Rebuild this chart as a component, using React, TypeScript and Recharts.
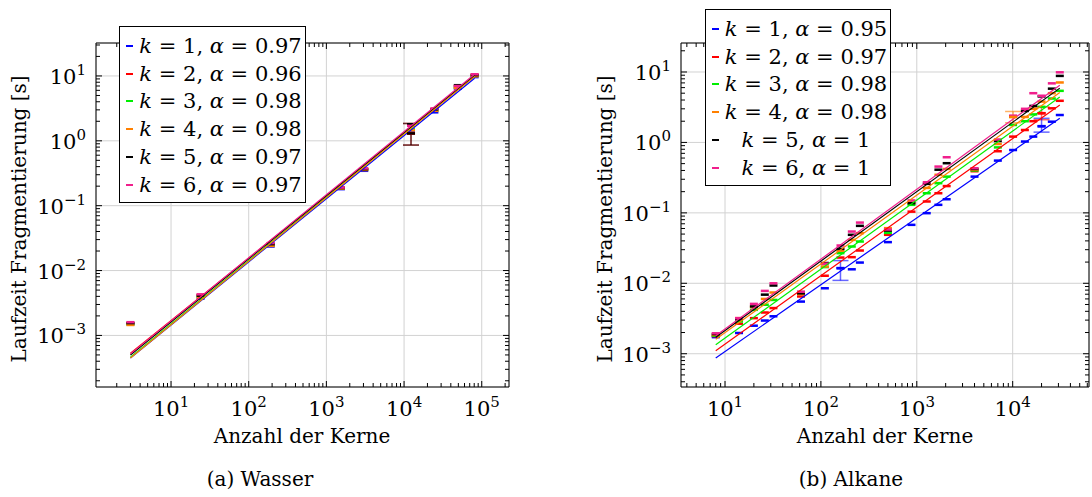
import { CartesianGrid, ErrorBar, Legend, Scatter, ScatterChart, XAxis, YAxis } from "recharts";

const FONT = "'DejaVu Serif', serif";
const COLORS = ["#0000ff", "#ff0000", "#00ee00", "#ff8000", "#000000", "#f01f8c"];

// Wasser
const WASSER_N = [3, 24, 192, 1536, 3072, 12288, 24576, 49152, 81000];
const WASSER_K1 = [1.5e-3, 3.7e-3, 0.0235, 0.18, 0.345, 1.35, 2.75, 6.4, 9.6];
const WASSER_K2 = [1.55e-3, 4.2e-3, 0.026, 0.19, 0.37, 1.3, 3.1, 6.9, 10.4];
const WASSER_K3 = [1.48e-3, 3.9e-3, 0.0245, 0.185, 0.36, 1.5, 2.95, 6.6, 10.0];
const WASSER_K4 = [1.45e-3, 3.85e-3, 0.024, 0.183, 0.355, 1.45, 2.9, 6.5, 9.9];
const WASSER_K5 = [1.55e-3, 4.1e-3, 0.0255, 0.187, 0.365, 1.8, 3.05, 7.2, 10.3];
const WASSER_K6 = [1.6e-3, 4.3e-3, 0.0265, 0.19, 0.375, 1.7, 3.15, 7.0, 10.6];
const WASSER_FIT_N = [3, 81000];
const WASSER_FIT_K1 = [4.5e-4, 9.2];
const WASSER_FIT_K2 = [5.3e-4, 9.9];
const WASSER_FIT_K3 = [4.6e-4, 10.0];
const WASSER_FIT_K4 = [4.5e-4, 9.9];
const WASSER_FIT_K5 = [5.0e-4, 10.3];
const WASSER_FIT_K6 = [5.2e-4, 10.6];
const WASSER_ALPHA = ["0.97", "0.96", "0.98", "0.98", "0.97", "0.97"];
const WASSER_ERRORS = [
  { k: 2, n: 12288, t: 1.3, lo: 0.44, hi: 0.55 },
  { k: 5, n: 12288, t: 1.3, lo: 0.44, hi: 0.55 },
];

// Alkane
const ALKANE_N = [8, 14, 20, 26, 32, 62, 110, 160, 210, 255, 500, 880, 1270, 1680, 2050, 4000, 7000, 10100, 13400, 16400, 20000, 25600, 31000];
const ALKANE_K1 = [1.72e-3, 1.97e-3, 2.5e-3, 2.96e-3, 3.4e-3, 5.5e-3, 8.5e-3, 0.0164, 0.0158, 0.0197, 0.0384, 0.0676, 0.099, 0.13, 0.156, 0.327, 0.552, 0.78, 1.03, 1.21, 1.7, 1.97, 2.45];
const ALKANE_K2 = [1.78e-3, 2.67e-3, 3.2e-3, 3.85e-3, 4.45e-3, 6.5e-3, 0.0128, 0.0232, 0.0235, 0.0292, 0.0488, 0.104, 0.145, 0.19, 0.24, 0.39, 0.75, 1.21, 1.5, 2.0, 2.6, 3.05, 3.9];
const ALKANE_K3 = [1.8e-3, 2.88e-3, 4.2e-3, 4.96e-3, 5.8e-3, 7.5e-3, 0.017, 0.0268, 0.0333, 0.0392, 0.052, 0.13, 0.19, 0.264, 0.327, 0.4, 0.85, 1.77, 2.0, 2.5, 3.2, 4.2, 5.4];
const ALKANE_K4 = [1.85e-3, 3.2e-3, 4.6e-3, 6.0e-3, 7.4e-3, 7.0e-3, 0.0173, 0.029, 0.0414, 0.0515, 0.0607, 0.14, 0.226, 0.347, 0.42, 0.41, 0.95, 2.3, 2.3, 3.0, 3.8, 5.0, 7.1];
const ALKANE_K5 = [1.9e-3, 3.1e-3, 4.7e-3, 6.9e-3, 9.3e-3, 7.2e-3, 0.0194, 0.0308, 0.0488, 0.0654, 0.056, 0.137, 0.258, 0.41, 0.507, 0.42, 1.05, 2.35, 2.8, 3.3, 4.5, 5.8, 8.8];
const ALKANE_K6 = [1.95e-3, 3.2e-3, 5.1e-3, 7.8e-3, 0.01, 7.6e-3, 0.019, 0.0344, 0.0543, 0.0728, 0.058, 0.15, 0.272, 0.454, 0.616, 0.43, 1.1, 2.4, 3.0, 5.0, 4.6, 6.9, 9.9];
const ALKANE_FIT_N = [8, 31000];
const ALKANE_FIT_K1 = [8.7e-4, 2.2];
const ALKANE_FIT_K2 = [1.1e-3, 3.4];
const ALKANE_FIT_K3 = [1.34e-3, 4.4];
const ALKANE_FIT_K4 = [1.6e-3, 5.1];
const ALKANE_FIT_K5 = [1.72e-3, 5.9];
const ALKANE_FIT_K6 = [1.8e-3, 6.5];
const ALKANE_ALPHA = ["0.95", "0.97", "0.98", "0.98", "1", "1"];
const ALKANE_ERRORS = [
  { k: 1, n: 160, t: 0.0164, lo: 0.0054, hi: 0.0046 },
  { k: 4, n: 10100, t: 2.3, lo: 0.4, hi: 0.45 },
  { k: 2, n: 20000, t: 2.6, lo: 0.5, hi: 0.6 },
  { k: 1, n: 20000, t: 1.7, lo: 0.3, hi: 0.5 },
];

const WASSER_X_TICKS = [10, 100, 1000, 10000, 100000];
const ALKANE_X_TICKS = [10, 100, 1000, 10000];
const Y_TICKS = [0.001, 0.01, 0.1, 1, 10];
const MINOR_STEPS = [2, 3, 4, 5, 6, 7, 8, 9];

const minorTicks = (dom: number[]) => {
  const out: number[] = [];
  for (let d = Math.floor(Math.log10(dom[0])); d <= Math.ceil(Math.log10(dom[1])); d++) {
    MINOR_STEPS.forEach((m) => {
      const v = m * Math.pow(10, d);
      if (v >= dom[0] && v <= dom[1]) out.push(v);
    });
  }
  return out;
};

const expLabel = (v: number) => {
  const e = Math.round(Math.log10(v));
  return e < 0 ? `\u2212${-e}` : `${e}`;
};

const isMajor = (v: number) => Math.abs(Math.log10(v) - Math.round(Math.log10(v))) < 1e-9;

const BottomTick = ({ x, y, payload }: any) => (
  <g>
    <line x1={x} x2={x} y1={y} y2={y - 6} stroke="#000" />
    <text x={x} y={y + 29} textAnchor="middle" fontFamily={FONT} fontSize={21} fill="#000">
      10<tspan dy={-9} fontSize={15}>{expLabel(payload.value)}</tspan>
    </text>
  </g>
);
const BottomMinor = ({ x, y }: any) => <line x1={x} x2={x} y1={y - 1} y2={y - 5} stroke="#000" />;
const TopTick = ({ x, y, payload }: any) => (
  <line x1={x} x2={x} y1={y} y2={y + (isMajor(payload.value) ? 6 : 4)} stroke="#000" />
);
const LeftTick = ({ x, y, payload }: any) => (
  <g>
    <line x1={x} x2={x + 6} y1={y} y2={y} stroke="#000" />
    <text x={x - 10} y={y + 8} textAnchor="end" fontFamily={FONT} fontSize={21} fill="#000">
      10<tspan dy={-9} fontSize={15}>{expLabel(payload.value)}</tspan>
    </text>
  </g>
);
const LeftMinor = ({ x, y }: any) => <line x1={x + 1} x2={x + 5} y1={y} y2={y} stroke="#000" />;
const RightTick = ({ x, y, payload }: any) => (
  <line x1={x} x2={x - (isMajor(payload.value) ? 6 : 4)} y1={y} y2={y} stroke="#000" />
);

const dash = (color: string) => (p: any) => (
  <rect x={p.cx - 4} y={p.cy - 1.25} width={8} height={2.5} fill={color} />
);

const LegendBox = ({ alphas, width }: { alphas: string[]; width: number }) => (
  <div
    style={{
      width,
      height: 177,
      boxSizing: "border-box",
      border: "1px solid #000",
      background: "#fff",
      paddingTop: 5,
      fontFamily: FONT,
      fontSize: 21,
      color: "#000",
    }}
  >
    {alphas.map((a, i) => (
      <div key={i} style={{ height: 27.8, display: "flex", alignItems: "center" }}>
        <span style={{ width: 7, height: 2, background: COLORS[i], marginLeft: 6, marginRight: 3, flex: "none" }} />
        <span style={{ flex: 1, textAlign: "center", whiteSpace: "pre" }}>
          <i>k</i> = {i + 1}, <i>α</i> = {a}
        </span>
      </div>
    ))}
  </div>
);

type PanelProps = {
  margin: { top: number; left: number; right: number; bottom: number };
  xDomain: number[];
  yDomain: number[];
  xTicks: number[];
  n: number[];
  series: number[][];
  fitN: number[];
  fits: number[][];
  errors: { k: number; n: number; t: number; lo: number; hi: number }[];
  alphas: string[];
  legendPos: { left: number; top: number; width: number };
};

const Panel = ({ margin, xDomain, yDomain, xTicks, n, series, fitN, fits, errors, alphas, legendPos }: PanelProps) => {
  const xMinor = minorTicks(xDomain);
  const yMinor = minorTicks(yDomain);
  const common = { type: "number" as const, scale: "log" as const, allowDataOverflow: true, interval: 0 as const, tickSize: 0, tickMargin: 0, tickLine: false };
  return (
    <ScatterChart width={546} height={497} margin={margin}>
      <CartesianGrid stroke="#d2d2d2" strokeWidth={1} />
      <XAxis {...common} dataKey="x" domain={xDomain} ticks={xTicks} height={1} axisLine={{ stroke: "#000" }} tick={(p: any) => <BottomTick {...p} />} />
      <XAxis {...common} xAxisId="bm" dataKey="x" domain={xDomain} ticks={xMinor} height={1} axisLine={false} tick={(p: any) => <BottomMinor {...p} />} />
      <XAxis {...common} xAxisId="top" orientation="top" dataKey="x" domain={xDomain} ticks={[...xTicks, ...xMinor]} height={1} axisLine={{ stroke: "#000" }} tick={(p: any) => <TopTick {...p} />} />
      <YAxis {...common} dataKey="y" domain={yDomain} ticks={Y_TICKS} width={1} axisLine={{ stroke: "#000" }} tick={(p: any) => <LeftTick {...p} />} />
      <YAxis {...common} yAxisId="lm" dataKey="y" domain={yDomain} ticks={yMinor} width={1} axisLine={false} tick={(p: any) => <LeftMinor {...p} />} />
      <YAxis {...common} yAxisId="right" orientation="right" dataKey="y" domain={yDomain} ticks={[...Y_TICKS, ...yMinor]} width={1} axisLine={{ stroke: "#000" }} tick={(p: any) => <RightTick {...p} />} />
      {series.map((vals, i) => (
        <Scatter
          key={`pts-${i}`}
          data={n.map((x, j) => ({ x, y: vals[j] }))}
          shape={dash(COLORS[i])}
          isAnimationActive={false}
        />
      ))}
      {fits.map((f, i) => (
        <Scatter
          key={`fit-${i}`}
          data={fitN.map((x, j) => ({ x, y: f[j] }))}
          line={{ stroke: COLORS[i], strokeWidth: 1.2 }}
          shape={() => <g />}
          isAnimationActive={false}
        />
      ))}
      {errors.map((e, i) => (
        <Scatter
          key={`err-${i}`}
          data={[{ x: e.n, y: e.t, err: [e.lo, e.hi] }]}
          shape={dash(COLORS[e.k - 1])}
          isAnimationActive={false}
        >
          <ErrorBar dataKey="err" direction="y" width={8} stroke={COLORS[e.k - 1]} strokeWidth={1.5} strokeOpacity={0.6} />
        </Scatter>
      ))}
      <Legend
        layout="vertical"
        align="center"
        verticalAlign="middle"
        wrapperStyle={{ position: "absolute", left: legendPos.left, top: legendPos.top, width: legendPos.width, height: 177 }}
        content={() => <LegendBox alphas={alphas} width={legendPos.width} />}
      />
    </ScatterChart>
  );
};

const textStyle = { position: "absolute" as const, fontFamily: FONT, color: "#000", whiteSpace: "nowrap" as const, lineHeight: 1, fontSize: 20 };

export default function App() {
  return (
    <div style={{ position: "absolute", left: 0, top: 0, width: 1092, height: 497, background: "#fff" }}>
      <div style={{ position: "absolute", left: 0, top: 0 }}>
        <Panel
          margin={{ top: 42, left: 94, right: 36, bottom: 108 }}
          xDomain={[1.081, 224400]}
          yDomain={[1.603e-4, 32.2]}
          xTicks={WASSER_X_TICKS}
          n={WASSER_N}
          series={[WASSER_K1, WASSER_K2, WASSER_K3, WASSER_K4, WASSER_K5, WASSER_K6]}
          fitN={WASSER_FIT_N}
          fits={[WASSER_FIT_K1, WASSER_FIT_K2, WASSER_FIT_K3, WASSER_FIT_K4, WASSER_FIT_K5, WASSER_FIT_K6]}
          errors={WASSER_ERRORS}
          alphas={WASSER_ALPHA}
          legendPos={{ left: 119, top: 26, width: 187 }}
        />
      </div>
      <div style={{ position: "absolute", left: 546, top: 0 }}>
        <Panel
          margin={{ top: 42, left: 133, right: 2, bottom: 108 }}
          xDomain={[3.475, 62500]}
          yDomain={[3.37e-4, 25.8]}
          xTicks={ALKANE_X_TICKS}
          n={ALKANE_N}
          series={[ALKANE_K1, ALKANE_K2, ALKANE_K3, ALKANE_K4, ALKANE_K5, ALKANE_K6]}
          fitN={ALKANE_FIT_N}
          fits={[ALKANE_FIT_K1, ALKANE_FIT_K2, ALKANE_FIT_K3, ALKANE_FIT_K4, ALKANE_FIT_K5, ALKANE_FIT_K6]}
          errors={ALKANE_ERRORS}
          alphas={ALKANE_ALPHA}
          legendPos={{ left: 159, top: 9, width: 186 }}
        />
      </div>
      <div style={{ ...textStyle, left: 19, top: 219, transform: "translate(-50%, -50%) rotate(-90deg)" }}>
        Laufzeit Fragmentierung [s]
      </div>
      <div style={{ ...textStyle, left: 605, top: 219, transform: "translate(-50%, -50%) rotate(-90deg)" }}>
        Laufzeit Fragmentierung [s]
      </div>
      <div style={{ ...textStyle, left: 302, top: 436, transform: "translate(-50%, -50%)" }}>Anzahl der Kerne</div>
      <div style={{ ...textStyle, left: 885, top: 436, transform: "translate(-50%, -50%)" }}>Anzahl der Kerne</div>
      <div style={{ ...textStyle, left: 260, top: 479, transform: "translate(-50%, -50%)" }}>(a) Wasser</div>
      <div style={{ ...textStyle, left: 851, top: 479, transform: "translate(-50%, -50%)" }}>(b) Alkane</div>
    </div>
  );
}
